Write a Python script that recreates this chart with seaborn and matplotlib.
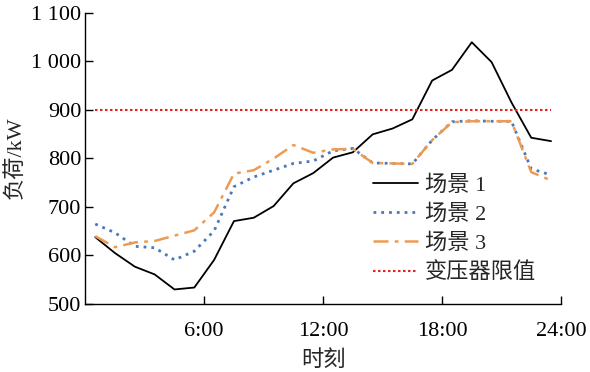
import numpy as np
import pandas as pd
import matplotlib
matplotlib.use('Agg')
import matplotlib.pyplot as plt
import seaborn as sns

# hourly points (plotted at the middle of each hour)
hours = np.arange(24) + 0.5
scene1 = [637, 604, 576, 560, 529, 533, 590, 670, 677, 701, 748, 769,
          801, 812, 849, 861, 880, 960, 982, 1039, 998, 915, 842, 835]
scene2 = [664, 646, 618, 615, 590, 608, 650, 741, 761, 775, 789, 794,
          815, 820, 790, 789, 788, 837, 875, 877, 876, 876, 778, 765]
scene3 = [639, 616, 626, 629, 640, 651, 688, 768, 775, 799, 827, 811,
          818, 819, 790, 789, 788, 837, 874, 876, 876, 876, 771, 754]
limit = [900] * 24
labels = ['场景 1', '场景 2', '场景 3', '变压器限值']
xticks = [6, 12, 18, 24]
xticklabels = ['6:00', '12:00', '18:00', '24:00']
yticks = [500, 600, 700, 800, 900, 1000, 1100]
yticklabels = ['500', '600', '700', '800', '900', '1 000', '1 100']

sns.set_style('ticks')
plt.rcParams['font.family'] = ['Liberation Serif', 'Noto Sans CJK SC', 'DejaVu Sans']
plt.rcParams['font.size'] = 16

fig = plt.figure(figsize=(5.9, 3.72), dpi=100)
ax = fig.add_axes([0.1446, 0.1841, 0.8062, 0.7818])

sns.lineplot(x=hours, y=scene1, ax=ax, color='black', lw=1.3, label=labels[0])
sns.lineplot(x=hours, y=scene2, ax=ax, color='#4a78b8', lw=2.0,
             linestyle=(0, (1, 1.8)), label=labels[1])
sns.lineplot(x=hours, y=scene3, ax=ax, color='#ee9b52', lw=1.8,
             linestyle=(0, (6, 2.5, 1.5, 2.5)), label=labels[2])
sns.lineplot(x=hours, y=limit, ax=ax, color='#e02424', lw=1.5,
             linestyle=(0, (1.2, 1.2)), label=labels[3])

ax.set_xlim(0, 24)
ax.set_ylim(500, 1100)
ax.set_xticks(xticks)
ax.set_xticklabels(xticklabels)
ax.set_yticks(yticks)
ax.set_yticklabels(yticklabels)
ax.tick_params(direction='in', length=6, width=1, labelsize=16, colors='black')
ax.tick_params(axis='x', pad=13)
ax.tick_params(axis='y', pad=3)
for s in ['top', 'right']:
    ax.spines[s].set_visible(False)
for s in ['left', 'bottom']:
    ax.spines[s].set_color('black')
    ax.spines[s].set_linewidth(1)

ax.set_xlabel('时刻', fontsize=16, labelpad=7)
ax.set_ylabel('负荷/kW', fontsize=16, labelpad=4)

ax.legend(loc='upper left', bbox_to_anchor=(0.605, 0.44), frameon=False,
          borderpad=0, borderaxespad=0, handlelength=2.0, handletextpad=0.35,
          labelspacing=0.38, fontsize=16)

fig.savefig('out.png', dpi=100)
